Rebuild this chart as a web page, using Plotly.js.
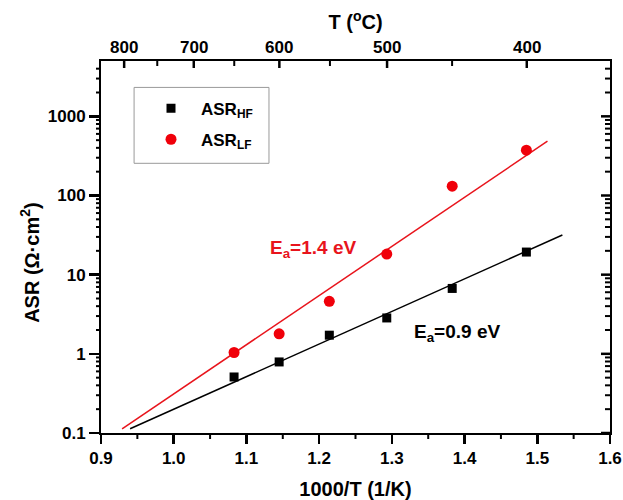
<!DOCTYPE html>
<html>
<head>
<meta charset="utf-8">
<script src="https://cdn.plot.ly/plotly-3.0.1.min.js"></script>
<style>html,body{margin:0;padding:0;background:#fff;}#chart{width:623px;height:500px;}</style>
</head>
<body>
<div id="chart"></div>
<script>
// ---- data ----
const invT = [1.083, 1.145, 1.214, 1.293, 1.383, 1.485];      // 1000/T (1/K)
const asrHF = [0.51, 0.79, 1.72, 2.84, 6.7, 19.3];            // Ω·cm²
const asrLF = [1.04, 1.79, 4.6, 18.2, 131, 374];              // Ω·cm²
const fitHFx = [0.940, 1.5345];
const fitHFy = [0.113, 31.7];
const fitLFx = [0.929, 1.514];
const fitLFy = [0.113, 485];
const tempMajor = [800, 700, 600, 500, 400];                   // °C top-axis labels
const tempMinor = [750, 650, 550, 450];
const xMinor = [0.95, 1.05, 1.15, 1.25, 1.35, 1.45, 1.55];
const yTickVals = [0.1, 1, 10, 100, 1000];
const yTickText = ['0.1', '1', '10', '100', '1000'];
const yMinorDigits = [2, 3, 4, 5, 6, 7, 8, 9];

// ---- helpers ----
const X_RANGE = [0.9, 1.6];
const Y_RANGE = [-1, Math.log10(5000)];
const PLOT_W = 623 - 101 - 13, PLOT_H = 500 - 61 - 67;
const toInv = t => 1000 / (t + 273.15);
const xPaper = v => (v - X_RANGE[0]) / (X_RANGE[1] - X_RANGE[0]);
const yPaper = v => (Math.log10(v) - Y_RANGE[0]) / (Y_RANGE[1] - Y_RANGE[0]);
const yMinorVals = [];
yTickVals.forEach(d => yMinorDigits.forEach(k => { if (d * k < 5000) yMinorVals.push(d * k); }));

const FONT = 'Liberation Sans, Arial, sans-serif';
const BLACK = '#000';

// tick marks drawn as paper-space segments
const vTick = (px, y0, lenPx, w) => ({type: 'line', xref: 'paper', yref: 'paper',
  x0: px, x1: px, y0: y0, y1: y0 + lenPx / PLOT_H, line: {color: BLACK, width: w}});
const hTick = (py, x0, lenPx, w) => ({type: 'line', xref: 'paper', yref: 'paper',
  x0: x0, x1: x0 + lenPx / PLOT_W, y0: py, y1: py, line: {color: BLACK, width: w}});

const shapes = [
  // legend frame
  {type: 'rect', xref: 'paper', yref: 'paper', x0: 0.065, x1: 0.330, y0: 0.725, y1: 0.929,
   line: {color: '#999', width: 1}, fillcolor: 'rgba(0,0,0,0)', layer: 'below'}
];
xMinor.forEach(v => shapes.push(vTick(xPaper(v), 0, -6, 2)));                    // bottom minor (out)
tempMajor.forEach(t => shapes.push(vTick(xPaper(toInv(t)), 1, -7, 2.5)));         // top major (in)
tempMinor.forEach(t => shapes.push(vTick(xPaper(toInv(t)), 1, -5, 2)));           // top minor (in)
yMinorVals.forEach(v => shapes.push(hTick(yPaper(v), 0, -5, 2)));                 // left minor (out)
yTickVals.forEach(v => shapes.push(hTick(yPaper(v), 1, -9, 2.5)));                // right major (in)
yMinorVals.forEach(v => shapes.push(hTick(yPaper(v), 1, -5, 2)));                 // right minor (in)

const traces = [
  {x: fitHFx, y: fitHFy, mode: 'lines', line: {color: BLACK, width: 1.5}, showlegend: false, hoverinfo: 'skip'},
  {x: fitLFx, y: fitLFy, mode: 'lines', line: {color: '#e8141c', width: 1.5}, showlegend: false, hoverinfo: 'skip'},
  {x: invT, y: asrHF, mode: 'markers', name: 'ASR<sub>HF</sub>', legendgroup: 'a',
   marker: {symbol: 'square', size: 9, color: BLACK}},
  {x: invT, y: asrLF, mode: 'markers', name: 'ASR<sub>LF</sub>', legendgroup: 'b',
   marker: {symbol: 'circle', size: 11, color: '#f0000a'}}
];

const axisFont = {family: FONT, size: 17, color: BLACK, weight: 'bold'};
const titleFont = {family: FONT, size: 20, color: BLACK, weight: 'bold'};

const annotations = [
  {x: -0.1395, y: 0.46, xref: 'paper', yref: 'paper', xanchor: 'center', yanchor: 'middle',
   showarrow: false, textangle: -90, text: 'ASR (Ω·cm<sup>2</sup>)', font: titleFont},
  {x: 1.1297, y: 1.33, xref: 'x', yref: 'y', xanchor: 'left', yanchor: 'middle', showarrow: false,
   text: 'E<sub>a</sub>=1.4 eV', font: {family: FONT, size: 19, color: '#e8141c', weight: 'bold'}},
  {x: 1.3278, y: 0.26, xref: 'x', yref: 'y', xanchor: 'left', yanchor: 'middle', showarrow: false,
   text: 'E<sub>a</sub>=0.9 eV', font: {family: FONT, size: 19, color: BLACK, weight: 'bold'}}
];
// top temperature axis labels
tempMajor.forEach(t => annotations.push({
  x: xPaper(toInv(t)), y: 1 + (60.7 - 47) / PLOT_H, xref: 'paper', yref: 'paper',
  xanchor: 'center', yanchor: 'middle', showarrow: false, text: String(t), font: axisFont
}));

const layout = {
  width: 623, height: 500,
  margin: {l: 101, r: 13, t: 61, b: 67},
  paper_bgcolor: '#fff', plot_bgcolor: '#fff',
  font: {family: FONT, color: BLACK},
  title: {text: 'T (<sup>o</sup>C)', font: titleFont, xref: 'paper', x: 0.5, xanchor: 'center',
          yref: 'container', y: 1 - 22 / 500, yanchor: 'middle'},
  xaxis: {
    range: X_RANGE, dtick: 0.1, tick0: 0.9, tickformat: '.1f',
    showgrid: false, zeroline: false, showline: true, mirror: true, linewidth: 2, linecolor: BLACK,
    ticks: 'outside', ticklen: 9, tickwidth: 2.5, tickcolor: BLACK,
    tickfont: axisFont,
    title: {text: '1000/T (1/K)', font: titleFont, standoff: 17}
  },
  yaxis: {
    type: 'log', range: Y_RANGE,
    tickmode: 'array', tickvals: yTickVals, ticktext: yTickText,
    showgrid: false, zeroline: false, showline: true, mirror: true, linewidth: 2, linecolor: BLACK,
    ticks: 'outside', ticklen: 10, tickwidth: 2.5, tickcolor: BLACK,
    tickfont: axisFont
  },
  showlegend: true,
  legend: {
    x: 0.0786, y: 0.9204, xanchor: 'left', yanchor: 'top',
    bgcolor: 'rgba(0,0,0,0)', borderwidth: 0,
    font: {family: FONT, size: 17, color: BLACK, weight: 'bold'},
    traceorder: 'grouped', tracegroupgap: 6, itemwidth: 50
  },
  shapes: shapes,
  annotations: annotations
};

Plotly.newPlot('chart', traces, layout, {displayModeBar: false, staticPlot: true});
</script>
</body>
</html>
